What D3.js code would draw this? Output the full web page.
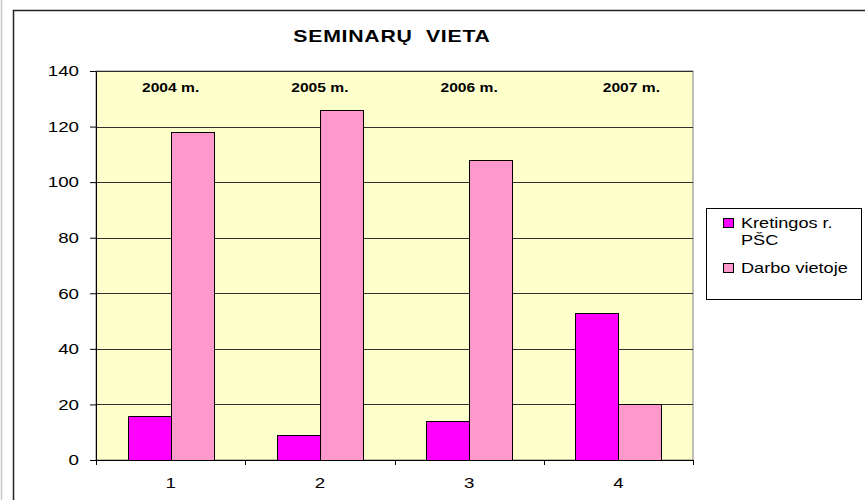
<!DOCTYPE html>
<head>
  <meta charset="utf-8">
  <script src="https://d3js.org/d3.v7.min.js"></script>
  <style>
    body { margin: 0; background: #fff; }
    text { font-family: "Liberation Sans", Arial, sans-serif; }
  </style>
</head>
<body>
<div id="my_dataviz"></div>
<script>
  // data
  var groups = ["1", "2", "3", "4"];
  var years = ["2004 m.", "2005 m.", "2006 m.", "2007 m."];
  var seriesNames = ["Kretingos r. PŠC", "Darbo vietoje"];
  var kretingos = [16, 9, 14, 53];
  var darbo = [118, 126, 108, 20];
  var yTicks = [0, 20, 40, 60, 80, 100, 120, 140];
  var colors = ["#ff00ff", "#ff99cc"];

  var W = 865, H = 500;
  var margin = {top: 71, left: 96},
    width = 597,
    height = 389;
  var sx = 1.25; // the original picture is stretched sideways

  var svg = d3.select("#my_dataviz")
    .append("svg")
      .attr("width", W)
      .attr("height", H);

  // stretched text helper
  function label(parent, x, y, txt, size, anchor, bold) {
    return parent.append("text")
      .attr("transform", "translate(" + x + "," + y + ") scale(" + sx + ",1)")
      .attr("text-anchor", anchor || "start")
      .style("font-size", size + "px")
      .style("font-weight", bold ? "bold" : "normal")
      .text(txt);
  }

  // outer frame
  svg.append("line")
    .attr("x1", 1.5).attr("x2", 1.5).attr("y1", 0).attr("y2", H)
    .style("stroke", "#c8c8c8").style("stroke-width", 1.5);
  svg.append("rect")
    .attr("x", 13.5).attr("y", 10.5)
    .attr("width", W).attr("height", H)
    .style("fill", "none").style("stroke", "#222").style("stroke-width", 1.5);

  label(svg, 392, 42, "SEMINARŲ  VIETA", 17, "middle", true)
    .attr("xml:space", "preserve")
    .style("letter-spacing", "0.6px");

  var g = svg.append("g")
    .attr("transform", "translate(" + margin.left + "," + margin.top + ")");

  var x = d3.scaleBand().domain(groups).range([0, width]);
  var xSub = d3.scaleBand().domain(seriesNames).range([0, 86]);
  var y = d3.scaleLinear().domain([0, 140]).range([height, 0]);

  g.append("rect")
    .attr("width", width).attr("height", height)
    .style("fill", "#ffffcc").style("stroke", "#808080");

  // gridlines
  g.selectAll(".grid")
    .data(yTicks.slice(1))
    .enter().append("line")
      .attr("x1", 0).attr("x2", width)
      .attr("y1", function(d) { return Math.round(y(d)) + 0.5; })
      .attr("y2", function(d) { return Math.round(y(d)) + 0.5; })
      .style("stroke", "#303030");

  // bars
  var rows = groups.map(function(gr, i) {
    return [{g: gr, s: seriesNames[0], v: kretingos[i], c: colors[0]},
            {g: gr, s: seriesNames[1], v: darbo[i], c: colors[1]}];
  });
  g.selectAll(".grp")
    .data(rows)
    .enter().append("g")
      .attr("transform", function(d) { return "translate(" + Math.round(x(d[0].g) + x.bandwidth() / 2 - 43) + ",0)"; })
    .selectAll("rect")
    .data(function(d) { return d; })
    .enter().append("rect")
      .attr("x", function(d) { return xSub(d.s) + 0.5; })
      .attr("y", function(d) { return Math.round(y(d.v)) + 0.5; })
      .attr("width", xSub.bandwidth())
      .attr("height", function(d) { return height - Math.round(y(d.v)); })
      .style("fill", function(d) { return d.c; })
      .style("stroke", "#000");

  // year labels
  years.forEach(function(d, i) {
    label(g, x(groups[i]) + x.bandwidth() / 2 + (i === 3 ? 13 : 0), 21, d, 12.5, "middle", true);
  });

  // axes
  var yAxis = g.append("g")
    .call(d3.axisLeft(y).tickValues(yTicks).tickSizeInner(6).tickSizeOuter(0).tickPadding(0));
  yAxis.selectAll("text")
    .attr("x", 0)
    .attr("transform", "translate(-17,0) scale(" + sx + ",1)")
    .style("font-size", "15px").style("font-family", "Liberation Sans, Arial, sans-serif");
  yAxis.select(".domain").style("stroke", "#000");

  var xAxis = g.append("g")
    .attr("transform", "translate(0," + height + ")")
    .call(d3.axisBottom(x).tickSize(0).tickPadding(0));
  xAxis.selectAll("text")
    .attr("y", 0).attr("dy", 0)
    .attr("transform", "translate(0,28) scale(" + sx + ",1)")
    .style("font-size", "15px").style("font-family", "Liberation Sans, Arial, sans-serif");
  xAxis.select(".domain").style("stroke", "#000");
  xAxis.selectAll(".bt")
    .data(d3.range(groups.length + 1))
    .enter().append("line")
      .attr("x1", function(d) { return Math.round(d * x.bandwidth()) + 0.5; })
      .attr("x2", function(d) { return Math.round(d * x.bandwidth()) + 0.5; })
      .attr("y1", 0).attr("y2", 5)
      .style("stroke", "#000");

  // legend
  var lg = svg.append("g").attr("transform", "translate(706,208)");
  lg.append("rect")
    .attr("x", 0.5).attr("y", 0.5).attr("width", 155).attr("height", 91)
    .style("fill", "#fff").style("stroke", "#000");
  var legendLines = [["Kretingos r.", "PŠC"], ["Darbo vietoje"]];
  var legendY = [20, 65];
  legendLines.forEach(function(lines, i) {
    lg.append("rect")
      .attr("x", 17.5).attr("y", legendY[i] - 9.5).attr("width", 10).attr("height", 9)
      .style("fill", colors[i]).style("stroke", "#000");
    lines.forEach(function(t, j) {
      label(lg, 35, legendY[i] + j * 17, t, 14.5, "start", false);
    });
  });
</script>
</body>
